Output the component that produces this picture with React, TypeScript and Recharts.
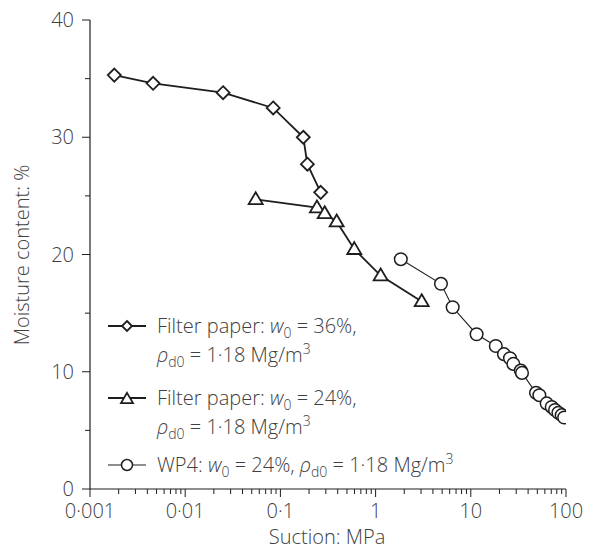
import React from "react";
import { ComposedChart, Line, XAxis, YAxis, Legend, Label } from "recharts";

// ── Data ──
const FP36_SUCTION = [0.0018, 0.0046, 0.025, 0.084, 0.174, 0.192, 0.265];
const FP36_MOISTURE = [35.3, 34.6, 33.8, 32.5, 30.0, 27.7, 25.3];

const FP24_SUCTION = [0.055, 0.242, 0.292, 0.39, 0.597, 1.13, 3.05];
const FP24_MOISTURE = [24.7, 24.0, 23.5, 22.8, 20.45, 18.2, 16.0];

const WP4_SUCTION = [
  1.84, 4.86, 6.45, 11.5, 18.3, 22.3, 25.8, 28.0, 33.5, 34.5, 48.4, 52.5, 62.7, 70.8, 76.7, 83.2, 90.1, 95.7,
];
const WP4_MOISTURE = [
  19.6, 17.5, 15.5, 13.2, 12.2, 11.5, 11.15, 10.67, 10.1, 9.9, 8.2, 8.0, 7.3, 7.0, 6.74, 6.5, 6.3, 6.1,
];

const X_DECADES = [0.001, 0.01, 0.1, 1, 10, 100];
const X_DECADE_LABELS = ["0·001", "0·01", "0·1", "1", "10", "100"];
const X_MINOR_STEPS = [2, 3, 4, 5, 6, 7, 8, 9];
const Y_TICKS = [0, 5, 10, 15, 20, 25, 30, 35, 40];

// ── Style ──
const FONT = "'Open Sans', 'Noto Sans', sans-serif";
const FONT_SIZE = 20;
const INK = "#1e1e1e";
const TEXT = "#404040";

const xTicks = [
  ...X_DECADES,
  ...X_DECADES.slice(0, -1).flatMap((d) => X_MINOR_STEPS.map((m) => d * m)),
].sort((a, b) => a - b);

const toPoints = (xs: number[], ys: number[]) => xs.map((s, i) => ({ s, w: ys[i] }));
const fp36 = toPoints(FP36_SUCTION, FP36_MOISTURE);
const fp24 = toPoints(FP24_SUCTION, FP24_MOISTURE);
const wp4 = toPoints(WP4_SUCTION, WP4_MOISTURE);

// ── Markers ──
function Diamond({ cx, cy, r = 6.5 }: { cx: number; cy: number; r?: number }) {
  return (
    <path
      d={`M${cx},${cy - r}L${cx + r},${cy}L${cx},${cy + r}L${cx - r},${cy}Z`}
      fill="#fff"
      stroke={INK}
      strokeWidth={1.8}
    />
  );
}

function Triangle({ cx, cy, r = 7 }: { cx: number; cy: number; r?: number }) {
  const h = r * 1.7;
  return (
    <path
      d={`M${cx},${cy - h * 0.6}L${cx + r},${cy + h * 0.4}L${cx - r},${cy + h * 0.4}Z`}
      fill="#fff"
      stroke={INK}
      strokeWidth={1.8}
    />
  );
}

function Circle({ cx, cy, r = 6.3 }: { cx: number; cy: number; r?: number }) {
  return <circle cx={cx} cy={cy} r={r} fill="#fff" stroke={INK} strokeWidth={1.5} />;
}

// ── Ticks ──
function XTick(props: any) {
  const { x, y, payload } = props;
  const v = payload.value as number;
  const lg = Math.log10(v);
  const major = Math.abs(lg - Math.round(lg)) < 1e-6;
  const idx = X_DECADES.findIndex((d) => Math.abs(Math.log10(d) - lg) < 1e-6);
  return (
    <g>
      <line x1={x} x2={x} y1={y} y2={y + (major ? 8 : 5)} stroke={INK} strokeWidth={1} />
      {major && idx >= 0 && (
        <text x={x} y={y + 29} textAnchor="middle" fontFamily={FONT} fontSize={FONT_SIZE} fontWeight={300} fill={TEXT}>
          {X_DECADE_LABELS[idx]}
        </text>
      )}
    </g>
  );
}

function YTick(props: any) {
  const { x, y, payload } = props;
  const v = payload.value as number;
  const major = v % 10 === 0;
  return (
    <g>
      <line x1={x - (major ? 8 : 5)} x2={x} y1={y} y2={y} stroke={INK} strokeWidth={1} />
      {major && (
        <text x={x - 16} y={y + 7} textAnchor="end" fontFamily={FONT} fontSize={FONT_SIZE} fontWeight={300} fill={TEXT}>
          {v}
        </text>
      )}
    </g>
  );
}

// ── Legend ──
const sub = { fontSize: 14, position: "relative" as const, top: 5 };
const sup = { fontSize: 14, position: "relative" as const, top: -8 };

function LegendIcon({ kind }: { kind: "diamond" | "triangle" | "circle" }) {
  return (
    <svg width={40} height={27} style={{ flex: "none" }}>
      <line x1={1} x2={39} y1={14} y2={14} stroke={INK} strokeWidth={kind === "circle" ? 1.2 : 1.8} />
      {kind === "diamond" && <Diamond cx={20} cy={14} r={5} />}
      {kind === "triangle" && <Triangle cx={20} cy={15} r={6} />}
      {kind === "circle" && <Circle cx={20} cy={14} r={5.5} />}
    </svg>
  );
}

function Rho() {
  return (
    <>
      <i>ρ</i>
      <span style={sub}>d0</span>
    </>
  );
}

function W0() {
  return (
    <>
      <i>w</i>
      <span style={sub}>0</span>
    </>
  );
}

function LegendBox() {
  const row = { display: "flex", alignItems: "flex-start" };
  const txt = { marginLeft: 10, whiteSpace: "nowrap" as const };
  return (
    <div style={{ fontFamily: FONT, fontSize: FONT_SIZE, fontWeight: 300, color: TEXT, lineHeight: "27px" }}>
      <div style={{ ...row, marginBottom: 14 }}>
        <LegendIcon kind="diamond" />
        <div style={txt}>
          <div>
            Filter paper: <W0 /> = 36%,
          </div>
          <div>
            <Rho /> = 1·18 Mg/m<span style={sup}>3</span>
          </div>
        </div>
      </div>
      <div style={{ ...row, marginBottom: 9 }}>
        <LegendIcon kind="triangle" />
        <div style={txt}>
          <div>
            Filter paper: <W0 /> = 24%,
          </div>
          <div>
            <Rho /> = 1·18 Mg/m<span style={sup}>3</span>
          </div>
        </div>
      </div>
      <div style={row}>
        <LegendIcon kind="circle" />
        <div style={txt}>
          WP4: <W0 /> = 24%, <Rho /> = 1·18 Mg/m<span style={sup}>3</span>
        </div>
      </div>
    </div>
  );
}

export default function App() {
  return (
    <div style={{ position: "absolute", left: 0, top: 0, width: 594, height: 551, background: "#fff" }}>
      <ComposedChart width={594} height={551} margin={{ top: 20, right: 28, left: 0, bottom: 0 }}>
        <XAxis
          dataKey="s"
          type="number"
          scale="log"
          domain={[0.001, 100]}
          ticks={xTicks}
          interval={0}
          allowDataOverflow
          height={62}
          tickSize={0}
          tickMargin={0}
          tick={XTick}
          axisLine={{ stroke: INK, strokeWidth: 1.2 }}
          tickLine={false}
        >
          <Label
            content={() => (
              <text x={327} y={544} textAnchor="middle" fontFamily={FONT} fontSize={FONT_SIZE} fontWeight={300} fill={TEXT}>
                Suction: MPa
              </text>
            )}
          />
        </XAxis>
        <YAxis
          type="number"
          domain={[0, 40]}
          ticks={Y_TICKS}
          interval={0}
          width={90}
          tickSize={0}
          tickMargin={0}
          tick={YTick}
          axisLine={{ stroke: INK, strokeWidth: 1.2 }}
          tickLine={false}
        >
          <Label
            content={() => (
              <text
                x={29}
                y={255}
                transform="rotate(-90 29 255)"
                textAnchor="middle"
                fontFamily={FONT}
                fontSize={FONT_SIZE}
                fontWeight={300}
                fill={TEXT}
              >
                Moisture content: %
              </text>
            )}
          />
        </YAxis>
        <Legend
          layout="vertical"
          align="center"
          verticalAlign="middle"
          content={LegendBox}
          wrapperStyle={{ position: "absolute", left: 107, top: 312, width: "auto" }}
        />
        <Line
          data={fp36}
          dataKey="w"
          name="fp36"
          type="linear"
          stroke={INK}
          strokeWidth={1.8}
          isAnimationActive={false}
          dot={(p: any) => <Diamond key={`d${p.index}`} cx={p.cx} cy={p.cy} />}
          activeDot={false}
        />
        <Line
          data={fp24}
          dataKey="w"
          name="fp24"
          type="linear"
          stroke={INK}
          strokeWidth={1.8}
          isAnimationActive={false}
          dot={(p: any) => <Triangle key={`t${p.index}`} cx={p.cx} cy={p.cy} />}
          activeDot={false}
        />
        <Line
          data={wp4}
          dataKey="w"
          name="wp4"
          type="linear"
          stroke={INK}
          strokeWidth={1.1}
          isAnimationActive={false}
          dot={(p: any) => <Circle key={`c${p.index}`} cx={p.cx} cy={p.cy} />}
          activeDot={false}
        />
      </ComposedChart>
    </div>
  );
}
